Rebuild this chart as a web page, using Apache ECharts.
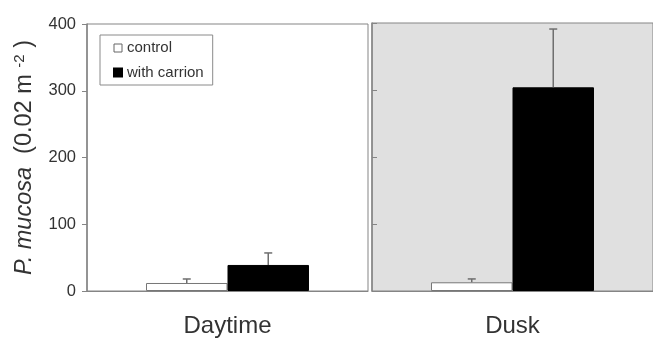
<!DOCTYPE html>
<html>
<head>
<meta charset="utf-8">
<script src="https://cdn.jsdelivr.net/npm/echarts@6/dist/echarts.min.js"></script>
<style>
  html, body { margin: 0; padding: 0; background: #ffffff; }
  #chart { width: 653px; height: 338px; }
</style>
</head>
<body>
<div id="chart"></div>
<script>
// Period panels and treatment groups
const periods = ['Daytime', 'Dusk'];
const treatments = ['control', 'with carrion'];
// Mean density per period (same order as periods)
const controlMean = [12, 13];
const carrionMean = [39, 304];
// Upper error (SE) per period
const controlErr = [6, 5];
const carrionErr = [18, 87];
const yTicks = [0, 100, 200, 300, 400];

const FONT = '"Liberation Sans", Arial, sans-serif';
const AXIS_GREY = '#858585';
const TEXT = '#333333';
const BAR_FRAC = 0.29;

const chart = echarts.init(document.getElementById('chart'));

function errorSeries(gridIdx, side, means, errs) {
  return {
    type: 'custom',
    xAxisIndex: gridIdx,
    yAxisIndex: gridIdx,
    silent: true,
    z: 5,
    data: [[0, means[gridIdx], means[gridIdx] + errs[gridIdx]]],
    renderItem: function (params, api) {
      const band = api.size([1, 0])[0];
      const base = api.coord([api.value(0), api.value(1)]);
      const top = api.coord([api.value(0), api.value(2)]);
      const x = base[0] + side * band * BAR_FRAC / 2;
      const cap = 4;
      const style = { stroke: '#6e6e6e', lineWidth: 1.5 };
      return {
        type: 'group',
        children: [
          { type: 'line', shape: { x1: x, y1: base[1], x2: x, y2: top[1] }, style: style },
          { type: 'line', shape: { x1: x - cap, y1: top[1], x2: x + cap, y2: top[1] }, style: style }
        ]
      };
    }
  };
}

function barSeries(gridIdx, name, values, color, border) {
  return {
    type: 'bar',
    name: name,
    xAxisIndex: gridIdx,
    yAxisIndex: gridIdx,
    data: [values[gridIdx]],
    barWidth: (BAR_FRAC * 100) + '%',
    barGap: '0%',
    itemStyle: { color: color, borderColor: border, borderWidth: 1 },
    emphasis: { disabled: true }
  };
}

const grids = [
  { left: 87, top: 24, width: 281, bottom: 46, show: true, borderColor: AXIS_GREY, borderWidth: 1, backgroundColor: '#ffffff' },
  { left: 372, top: 23, width: 286, bottom: 46, show: true, borderColor: AXIS_GREY, borderWidth: 1, backgroundColor: '#e0e0e0' }
];

const xAxes = periods.map((p, i) => ({
  type: 'category',
  gridIndex: i,
  data: [p],
  axisLine: { lineStyle: { color: AXIS_GREY } },
  axisTick: { show: false },
  axisLabel: { color: TEXT, fontSize: 24, fontFamily: FONT, margin: 23 }
}));

const yAxes = periods.map((p, i) => ({
  type: 'value',
  gridIndex: i,
  min: yTicks[0],
  max: yTicks[yTicks.length - 1],
  interval: 100,
  splitLine: { show: false },
  axisLine: { show: true, lineStyle: { color: AXIS_GREY, width: 1.5 } },
  axisTick: { show: true, inside: i === 1, length: 5, lineStyle: { color: AXIS_GREY } },
  axisLabel: { show: i === 0, color: TEXT, fontSize: 16.5, fontFamily: FONT, margin: 11 },
  name: i === 0 ? '{i|P. mucosa}  (0.02 m {s|-2} )' : '',
  nameLocation: 'middle',
  nameRotate: 90,
  nameGap: 50,
  nameTextStyle: {
    color: TEXT, fontSize: 23.5, fontFamily: FONT,
    rich: {
      i: { fontStyle: 'italic', fontSize: 23.5, fontFamily: FONT, color: TEXT },
      s: { fontSize: 15, fontFamily: FONT, color: TEXT, verticalAlign: 'top', padding: [0, 0, 10, 0] }
    }
  }
}));

const series = [];
periods.forEach((p, i) => {
  series.push(barSeries(i, treatments[0], controlMean, '#ffffff', '#777777'));
  series.push(barSeries(i, treatments[1], carrionMean, '#000000', '#000000'));
  series.push(errorSeries(i, -1, controlMean, controlErr));
  series.push(errorSeries(i, 1, carrionMean, carrionErr));
});

chart.setOption({
  animation: false,
  backgroundColor: '#ffffff',
  grid: grids,
  xAxis: xAxes,
  yAxis: yAxes,
  legend: {
    data: [
      { name: treatments[0], itemStyle: { color: '#ffffff', borderColor: '#666666', borderWidth: 1 } },
      { name: treatments[1], itemStyle: { color: '#000000' } }
    ],
    orient: 'vertical',
    left: 100,
    top: 35,
    itemWidth: 8,
    itemHeight: 8,
    itemGap: 7.5,
    icon: 'rect',
    padding: [4.5, 9, 4, 13],
    borderColor: '#8a8a8a',
    borderWidth: 1,
    selectedMode: false,
    textStyle: { color: TEXT, fontSize: 15, lineHeight: 17, fontFamily: FONT }
  },
  series: series
});
</script>
</body>
</html>
